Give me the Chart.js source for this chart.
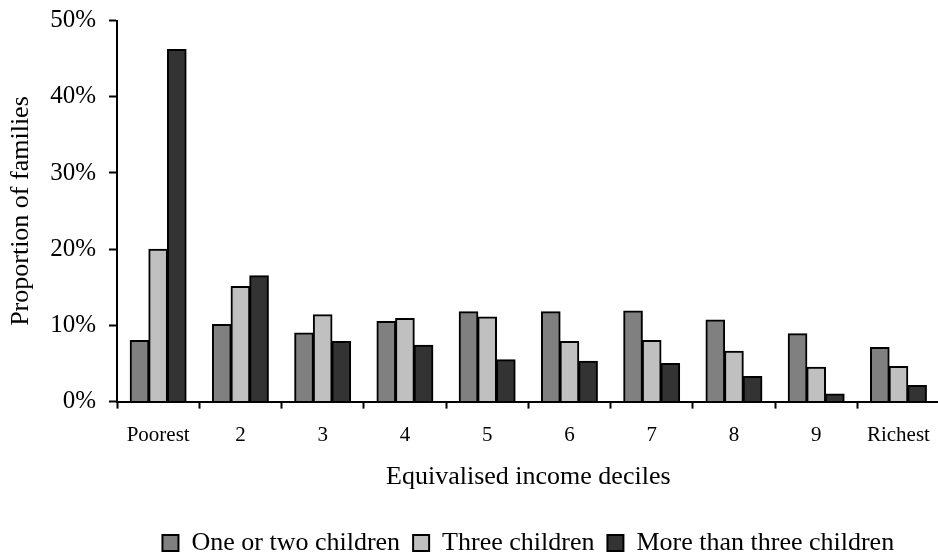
<!DOCTYPE html>
<html>
<head>
<meta charset="utf-8">
<script src="https://cdn.jsdelivr.net/npm/chart.js@4"></script>
<style>
  html, body { margin: 0; padding: 0; overflow: hidden; background: #fff; }
  #wrap { width: 944px; height: 558px; position: relative; }
</style>
</head>
<body>
<div id="wrap"><canvas id="chart"></canvas></div>
<script>
// Equivalised income deciles (poorest to richest)
const deciles = ['Poorest', '2', '3', '4', '5', '6', '7', '8', '9', 'Richest'];

// Proportion of families in each decile, in percent
const oneOrTwoChildren   = [8.0, 10.1, 9.0, 10.5, 11.8, 11.8, 11.9, 10.7, 8.9, 7.1];
const threeChildren      = [20.0, 15.1, 11.4, 10.9, 11.1, 7.9, 8.0, 6.6, 4.5, 4.6];
const moreThanThree      = [46.2, 16.5, 7.9, 7.4, 5.5, 5.3, 5.0, 3.3, 1.0, 2.1];

const seriesNames = ['One or two children', 'Three children', 'More than three children'];
const seriesColors = ['#808080', '#c0c0c0', '#333333'];

const yMax = 50;
const yStep = 10;

const serif = "'Liberation Serif', 'Times New Roman', serif";

const datasets = [oneOrTwoChildren, threeChildren, moreThanThree].map((values, i) => ({
  label: seriesNames[i],
  data: values,
  backgroundColor: seriesColors[i],
  borderColor: '#000',
  borderWidth: 2,
  inflateAmount: 0.5,
  categoryPercentage: 0.68,
  barPercentage: 1.0
}));

new Chart(document.getElementById('chart'), {
  type: 'bar',
  data: { labels: deciles, datasets },
  options: {
    responsive: true,
    maintainAspectRatio: false,
    animation: false,
    layout: { padding: { top: 0, right: 1, bottom: -8, left: 0 } },
    plugins: {
      tooltip: { enabled: false },
      legend: {
        position: 'bottom',
        fullSize: false,
        labels: {
          color: '#000',
          font: { family: serif, size: 26 },
          boxWidth: 16,
          boxHeight: 16,
          padding: 13
        }
      }
    },
    scales: {
      x: {
        grid: {
          display: true,
          offset: true,
          drawOnChartArea: false,
          drawTicks: true,
          tickLength: 7,
          tickWidth: 2,
          tickColor: '#000'
        },
        border: { display: true, color: '#000', width: 2 },
        ticks: {
          color: '#000',
          font: { family: serif, size: 21 },
          padding: 14,
          maxRotation: 0,
          autoSkip: false
        },
        title: {
          display: true,
          text: 'Equivalised income deciles',
          color: '#000',
          font: { family: serif, size: 26 },
          padding: { top: 0, bottom: 24 }
        }
      },
      y: {
        min: 0,
        max: yMax,
        grid: {
          display: true,
          drawOnChartArea: false,
          drawTicks: true,
          tickLength: 8,
          tickWidth: 2,
          tickColor: '#000'
        },
        border: { display: true, color: '#000', width: 2 },
        ticks: {
          stepSize: yStep,
          color: '#000',
          font: { family: serif, size: 25, lineHeight: 0.6 },
          padding: 13,
          callback: v => v + '%'
        },
        title: {
          display: true,
          text: 'Proportion of families',
          color: '#000',
          font: { family: serif, size: 26 },
          padding: { top: 6, bottom: 0 }
        }
      }
    }
  }
});
</script>
</body>
</html>
